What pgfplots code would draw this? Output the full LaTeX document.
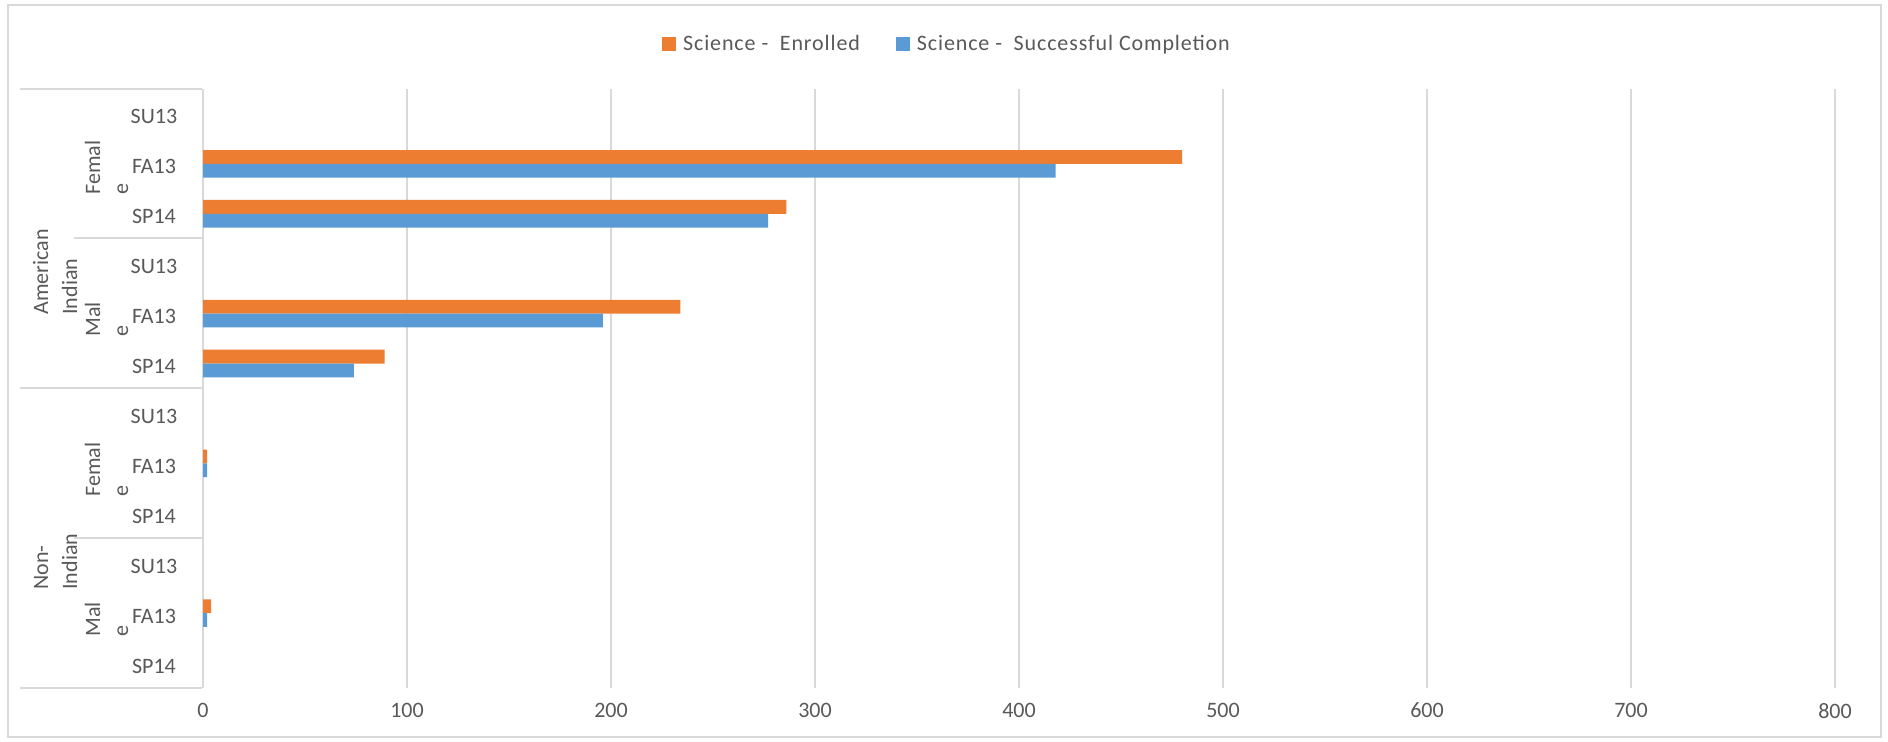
\documentclass[border=0pt]{standalone}
\usepackage{pgfplots}
\pgfplotsset{compat=1.18}
\usepackage{fontspec}
\setmainfont{Carlito}
\newfontfamily\legfont[LetterSpace=4]{Carlito}
\definecolor{cOrange}{HTML}{ED7D31}
\definecolor{cBlue}{HTML}{5B9BD5}
\definecolor{cGrid}{HTML}{D9D9D9}
\definecolor{cText}{HTML}{595959}
\newcommand{\lf}{\fontsize{11}{13}\selectfont}
\begin{document}
\begin{tikzpicture}
\begin{scope}[x=0.5pt,y=-0.5pt]
\useasboundingbox (0,0) rectangle (1888,742);
\fill[white] (0,0) rectangle (1888,742);
\draw[cGrid, line width=1pt] (8,5) rectangle (1881,737);
\end{scope}
\begin{axis}[
  at={(101.5pt,-344pt)}, anchor=south west,
  scale only axis, width=816pt, height=299.5pt,
  xbar, bar width=6.9pt,
  xmin=0, xmax=800, ymin=-0.5, ymax=11.5,
  xtick={0,100,...,800}, ytick=\empty,
  xmajorgrids, grid style={cGrid, line width=1pt},
  axis line style={draw=none},
  major tick length=0pt, tick style={draw=none},
  xticklabel style={font=\lf, text=cText, yshift=-4pt},
  /pgf/number format/assume math mode=true,
  clip=false,
  legend style={at={(0.4565,1.075)}, anchor=center, draw=none, fill=none,
    legend columns=2, font=\legfont\lf, text=cText,
    /tikz/every odd column/.append style={column sep=1.5pt},
    /tikz/every even column/.append style={column sep=16pt}},
  legend image code/.code={\draw[#1, draw=none] (0pt,-3.5pt) rectangle (7pt,3.5pt);},
]
\addplot[fill=cOrange, draw=none, bar shift=3.45pt] coordinates {(480,10) (286,9) (234,7) (89,6) (2,4) (4,1)};
\addplot[fill=cBlue, draw=none, bar shift=-3.45pt] coordinates {(418,10) (277,9) (196,7) (74,6) (2,4) (2,1)};
\legend{Science - \ Enrolled, Science - \ Successful Completion}
\end{axis}
\begin{scope}[x=0.5pt,y=-0.5pt]
\draw[cGrid, line width=1pt] (20,89)--(202,89) (74,238)--(202,238) (20,388)--(202,388) (74,538)--(202,538) (20,688)--(202,688);
\foreach \g in {0,3,6,9} {
  \pgfmathsetmacro{\ya}{116+50*\g}
  \pgfmathsetmacro{\yb}{166+50*\g}
  \pgfmathsetmacro{\yc}{216+50*\g}
  \node[font=\lf, text=cText] at (154,\ya) {SU13};
  \node[font=\lf, text=cText] at (154,\yb) {FA13};
  \node[font=\lf, text=cText] at (154,\yc) {SP14};
}
\tikzset{rl/.style={rotate=90, anchor=base west, inner sep=0pt, font=\lf, text=cText}}
\node[rl] at (100,195) {Femal};
\node[rl] at (128,195) {e};
\node[rl] at (100,337) {Mal};
\node[rl] at (128,337) {e};
\node[rl] at (100,497) {Femal};
\node[rl] at (128,497) {e};
\node[rl] at (100,637) {Mal};
\node[rl] at (128,637) {e};
\node[rl] at (48,315) {American};
\node[rl] at (77,315) {Indian};
\node[rl] at (48,590) {Non-};
\node[rl] at (77,590) {Indian};
\end{scope}
\end{tikzpicture}
\end{document}
